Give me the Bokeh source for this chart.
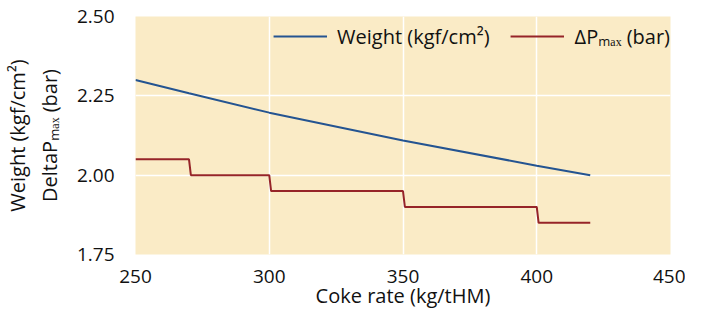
from bokeh.plotting import figure
from bokeh.models import Range1d, FixedTicker, NumeralTickFormatter, Legend, LegendItem
from bokeh.embed import file_html
from bokeh.resources import INLINE

# ---- data ----
coke_rate = [250, 270, 300, 350, 400, 420]
weight = [2.30, 2.258, 2.197, 2.109, 2.030, 2.00]

dp_x = [250, 270, 270.7, 300, 300.7, 350, 350.7, 400, 400.7, 420]
dp_y = [2.05, 2.05, 2.00, 2.00, 1.95, 1.95, 1.90, 1.90, 1.85, 1.85]

x_ticks = [250, 300, 350, 400, 450]
y_ticks = [1.75, 2.00, 2.25, 2.50]

weight_label = "Weight (kgf/cm²)"
dp_label = "ΔPₘₐₓ (bar)"
y_label = "Weight (kgf/cm²)\nDeltaPₘₐₓ (bar)"
x_label = "Coke rate (kg/tHM)"

FONT = "Open Sans"
TXT = "#111111"

p = figure(width=685, height=311, output_backend="svg", toolbar_location=None,
           x_range=Range1d(250, 450), y_range=Range1d(1.75, 2.5),
           min_border_left=125, min_border_right=15, min_border_top=16, min_border_bottom=55)

p.background_fill_color = "#FAEBC6"
p.border_fill_color = "white"
p.outline_line_color = None

for ax in (p.xaxis[0], p.yaxis[0]):
    ax.axis_line_color = None
    ax.major_tick_line_color = None
    ax.minor_tick_line_color = None
    ax.major_label_text_font = FONT
    ax.major_label_text_font_size = "19px"
    ax.major_label_text_color = TXT
    ax.axis_label_text_font = FONT
    ax.axis_label_text_font_size = "20px"
    ax.axis_label_text_font_style = "normal"
    ax.axis_label_text_color = TXT

p.xaxis.ticker = FixedTicker(ticks=x_ticks)
p.yaxis.ticker = FixedTicker(ticks=y_ticks)
p.yaxis.formatter = NumeralTickFormatter(format="0.00")
p.xaxis.major_label_standoff = 9
p.yaxis.major_label_standoff = 15
p.xaxis.axis_label = x_label
p.yaxis.axis_label = y_label
p.xaxis.axis_label_standoff = -4
p.yaxis.axis_label_standoff = 11

p.xgrid.grid_line_color = "white"
p.ygrid.grid_line_color = "white"
p.xgrid.grid_line_width = 1.5
p.ygrid.grid_line_width = 1.5

r1 = p.line(coke_rate, weight, line_color="#245491", line_width=2)
r2 = p.line(dp_x, dp_y, line_color="#962428", line_width=2)

legend = Legend(items=[LegendItem(label=weight_label, renderers=[r1]),
                       LegendItem(label=dp_label, renderers=[r2])],
                orientation="horizontal", location="top_right",
                background_fill_alpha=0, border_line_color=None,
                label_text_font=FONT, label_text_font_size="20px", label_text_color=TXT,
                glyph_width=54, glyph_height=40, label_height=40,
                label_standoff=10, spacing=21, margin=0, padding=4)
p.add_layout(legend)

open("out.html", "w").write(file_html(p, INLINE))
